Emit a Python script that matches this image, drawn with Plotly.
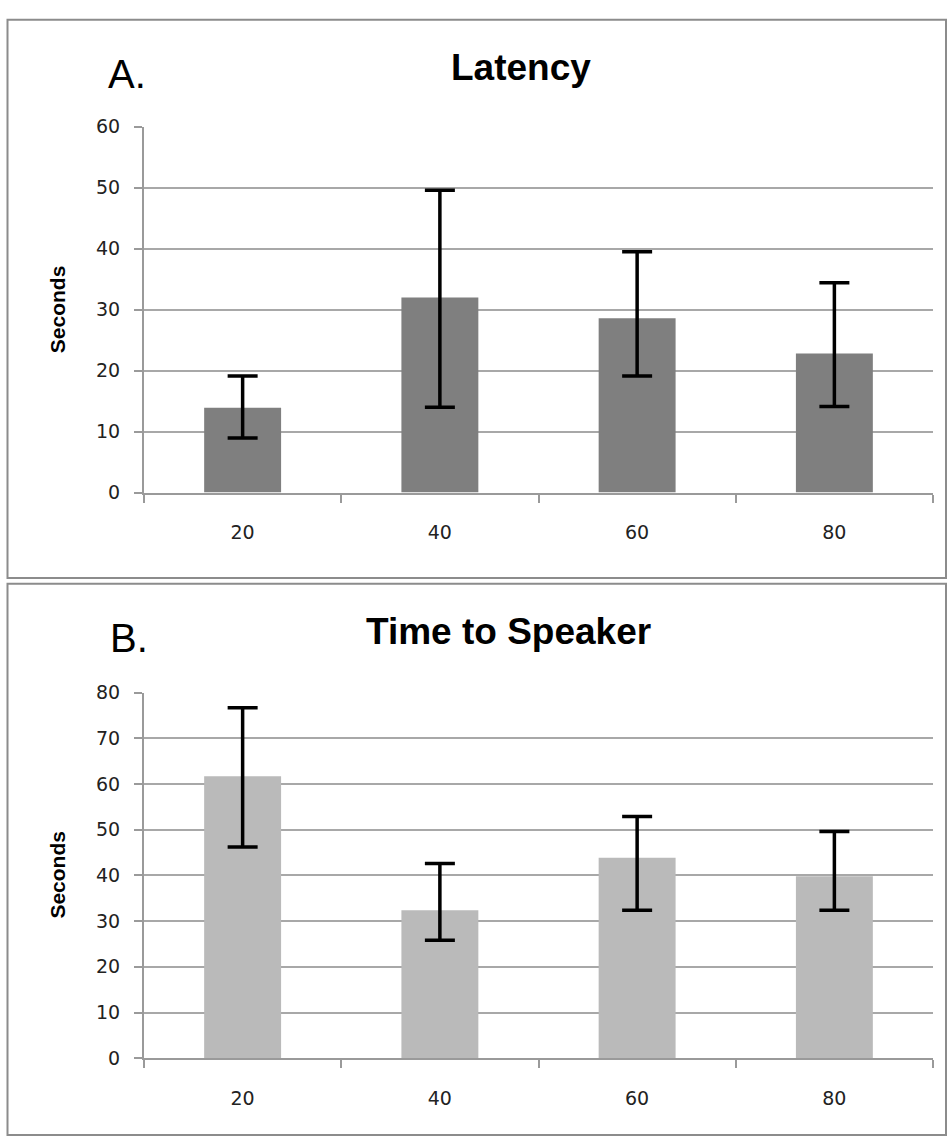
import plotly.graph_objects as go

# ---- data ----
categories = ["20", "40", "60", "80"]

latency = [13.9, 32.0, 28.6, 22.8]
latency_err_plus = [5.2, 17.6, 10.9, 11.6]
latency_err_minus = [4.95, 18.0, 9.5, 8.7]

speaker = [61.7, 32.4, 43.9, 39.8]
speaker_err_plus = [15.0, 10.2, 9.0, 9.8]
speaker_err_minus = [15.5, 6.6, 11.5, 7.4]

W, H = 949, 1147


def px(x):
    return x / W


def py(y):
    return 1 - y / H


fig = go.Figure()

fig.add_trace(go.Bar(
    x=categories, y=latency, xaxis="x", yaxis="y",
    marker=dict(color="#7f7f7f", line=dict(width=0)),
    error_y=dict(type="data", symmetric=False, array=latency_err_plus,
                 arrayminus=latency_err_minus, color="black", thickness=3.5, width=15),
    showlegend=False,
))
fig.add_trace(go.Bar(
    x=categories, y=speaker, xaxis="x2", yaxis="y2",
    marker=dict(color="#bababa", line=dict(width=0)),
    error_y=dict(type="data", symmetric=False, array=speaker_err_plus,
                 arrayminus=speaker_err_minus, color="black", thickness=3.5, width=15),
    showlegend=False,
))

tickfont = dict(family="DejaVu Sans", size=19, color="#222222")
axcol = "#9a9a9a"
gridcol = "#a8a8a8"

xcommon = dict(type="category", showline=True, linecolor=axcol, linewidth=2,
               ticks="outside", tickson="boundaries", ticklen=8, tickcolor=axcol,
               tickwidth=2, showgrid=False, tickfont=tickfont, ticklabelstandoff=22,
               zeroline=False)
ycommon = dict(showline=True, linecolor=axcol, linewidth=2, ticks="outside",
               ticklen=8, tickcolor=axcol, tickwidth=2, showgrid=True,
               gridcolor=gridcol, gridwidth=2, zeroline=False, tickfont=tickfont,
               dtick=10, ticklabelstandoff=10)

fig.update_layout(
    autosize=True,
    margin=dict(l=0, r=0, t=0, b=0),
    paper_bgcolor="white", plot_bgcolor="white",
    bargap=0.61,
    xaxis=dict(domain=[px(144), px(933)], anchor="y", **xcommon),
    yaxis=dict(domain=[py(491), py(118)], anchor="x", range=[0, 60], **ycommon),
    xaxis2=dict(domain=[px(144), px(933)], anchor="y2", **xcommon),
    yaxis2=dict(domain=[py(1067.7), py(695)], anchor="x2", range=[0, 80], **ycommon),
)

# panel borders
border = dict(color="#8c8c8c", width=2)
fig.add_shape(type="rect", xref="paper", yref="paper",
              x0=px(7.5), x1=px(946), y0=py(578), y1=py(9), line=border)
fig.add_shape(type="rect", xref="paper", yref="paper",
              x0=px(7.5), x1=px(946), y0=py(1146), y1=py(584), line=border)

titlefont = dict(family="Liberation Sans", size=37, color="black", weight="bold")
letterfont = dict(family="Liberation Sans", size=40, color="black")
labfont = dict(family="Liberation Sans", size=21, color="black", weight="bold")

anns = [
    dict(text="Latency", x=px(521), y=py(57.5), xanchor="center", yanchor="middle", font=titlefont),
    dict(text="Time to Speaker", x=px(508), y=py(632.5), xanchor="center", yanchor="middle", font=titlefont),
    dict(text="A.", x=px(106), y=py(64), xanchor="left", yanchor="middle", font=letterfont),
    dict(text="B.", x=px(108), y=py(639.5), xanchor="left", yanchor="middle", font=letterfont),
    dict(text="Seconds", x=px(57.5), y=py(304.5), xanchor="center", yanchor="middle", textangle=-90, font=labfont),
    dict(text="Seconds", x=px(57.5), y=py(881), xanchor="center", yanchor="middle", textangle=-90, font=labfont),
]
for a in anns:
    fig.add_annotation(xref="paper", yref="paper", showarrow=False, **a)

post = ("document.documentElement.style.margin='0';document.body.style.margin='0';"
        "document.body.style.overflow='hidden';")

fig.write_html("out.html", default_width="100vw", default_height="100vh",
               config={"displayModeBar": False, "responsive": True},
               post_script=post)
